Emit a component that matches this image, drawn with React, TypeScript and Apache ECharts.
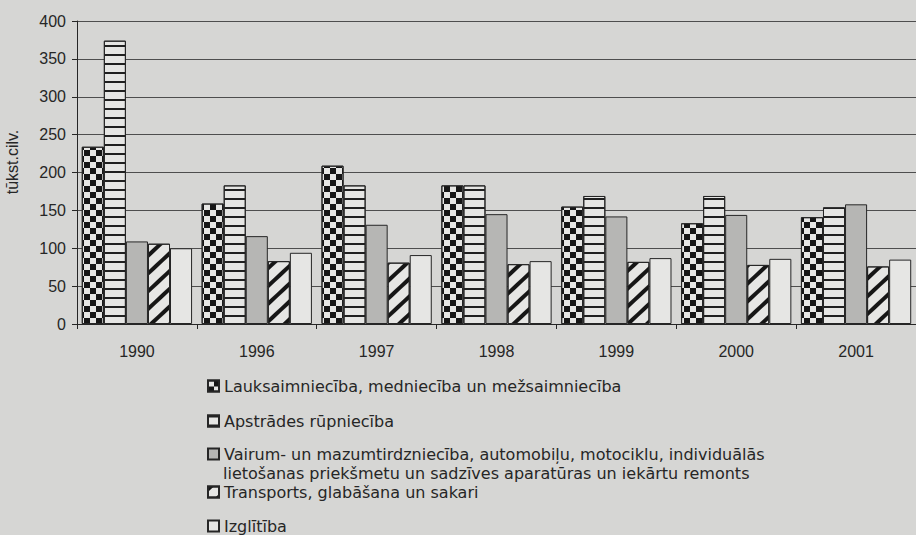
import React, { useEffect, useRef } from "react";
import * as echarts from "echarts";

const years = ["1990", "1996", "1997", "1998", "1999", "2000", "2001"];
const seriesNames = [
  "Lauksaimniecība, medniecība un mežsaimniecība",
  "Apstrādes rūpniecība",
  "Vairum- un mazumtirdzniecība, automobiļu, motociklu, individuālās\nlietošanas priekšmetu un sadzīves aparatūras un iekārtu remonts",
  "Transports, glabāšana un sakari",
  "Izglītība",
];
const lauksaimnieciba = [234, 159, 209, 183, 155, 133, 141];
const apstrades = [374, 183, 183, 183, 169, 169, 154];
const tirdznieciba = [109, 116, 131, 145, 142, 144, 158];
const transports = [106, 83, 81, 79, 82, 78, 76];
const izglitiba = [100, 94, 91, 83, 87, 86, 85];
const yAxisName = "tūkst.cilv.";
const yMin = 0;
const yMax = 400;
const yStep = 50;

const BG = "#d6d6d4";
const LIGHT = "#e6e6e4";
const INK = "#262626";

export default function App() {
  const ref = useRef<HTMLDivElement>(null);
  useEffect(() => {
    if (!ref.current) return;
    const chart = echarts.init(ref.current, null, { renderer: "svg" });
    const values = [lauksaimnieciba, apstrades, tirdznieciba, transports, izglitiba];
    const decals: any[] = [
      {
        symbol: "rect",
        symbolSize: 1,
        color: "#161616",
        dashArrayX: [[6, 6], [0, 6, 6, 0]],
        dashArrayY: [6, 0],
        rotation: 0,
      },
      {
        symbol: "rect",
        symbolSize: 1,
        color: "#202020",
        dashArrayX: [1, 0],
        dashArrayY: [1.4, 6.2],
        rotation: 0,
      },
      null,
      {
        symbol: "rect",
        symbolSize: 1,
        color: "#161616",
        dashArrayX: [1, 0],
        dashArrayY: [3.8, 8.2],
        rotation: -0.75,
      },
      null,
    ];
    const fills = [LIGHT, LIGHT, "#b6b6b4", LIGHT, LIGHT];
    const legendCenters = [386, 421, 454, 492, 526];
    const series = seriesNames.map((name, i) => ({
      name,
      type: "bar",
      data: values[i],
      barGap: "0%",
      barCategoryGap: "8%",
      itemStyle: {
        color: fills[i],
        borderColor: INK,
        borderWidth: 1,
        ...(decals[i] ? { decal: decals[i] } : {}),
      },
    }));
    const legends = seriesNames.map((name, i) => ({
      data: [name],
      orient: "vertical",
      left: 207,
      top: legendCenters[i] - 8,
      padding: 0,
      icon: "rect",
      itemWidth: 11,
      itemHeight: 11,
      itemGap: 5,
      formatter: (n: string) => n.split("\n")[0],
      textStyle: {
        fontFamily: "DejaVu Sans",
        fontSize: 16,
        lineHeight: 16,
        color: INK,
      },
    }));
    const secondLine = seriesNames[2].split("\n")[1];
    chart.setOption({
      animation: false,
      backgroundColor: BG,
      grid: { left: 77, right: 0, top: 21, bottom: 211, containLabel: false },
      legend: legends,
      xAxis: {
        type: "category",
        data: years,
        axisLine: { show: true, lineStyle: { color: INK, width: 1 } },
        axisTick: { show: true, length: 5, lineStyle: { color: INK } },
        axisLabel: {
          fontFamily: "Liberation Sans",
          fontSize: 16,
          color: INK,
          margin: 19,
        },
      },
      yAxis: {
        type: "value",
        min: yMin,
        max: yMax,
        interval: yStep,
        axisLine: { show: true, lineStyle: { color: INK, width: 1 } },
        axisTick: { show: true, length: 5, lineStyle: { color: INK } },
        axisLabel: {
          fontFamily: "Liberation Sans",
          fontSize: 16,
          color: INK,
          margin: 11,
        },
        splitLine: { show: true, lineStyle: { color: "#4e4e4e", width: 1 } },
      },
      graphic: [
        {
          type: "text",
          x: 12,
          y: 162,
          rotation: Math.PI / 2,
          style: {
            text: yAxisName,
            fontFamily: "Liberation Sans",
            fontSize: 16,
            fill: INK,
            align: "center",
            verticalAlign: "middle",
          },
        },
        {
          type: "text",
          x: 223,
          y: 473,
          style: {
            text: secondLine,
            fontFamily: "DejaVu Sans",
            fontSize: 16,
            fill: INK,
            align: "left",
            verticalAlign: "middle",
          },
        },
      ],
      series,
    });
    return () => chart.dispose();
  }, []);
  return (
    <div
      style={{
        position: "absolute",
        left: 0,
        top: 0,
        width: 916,
        height: 535,
        background: BG,
      }}
    >
      <div ref={ref} style={{ width: 916, height: 535 }} />
    </div>
  );
}
